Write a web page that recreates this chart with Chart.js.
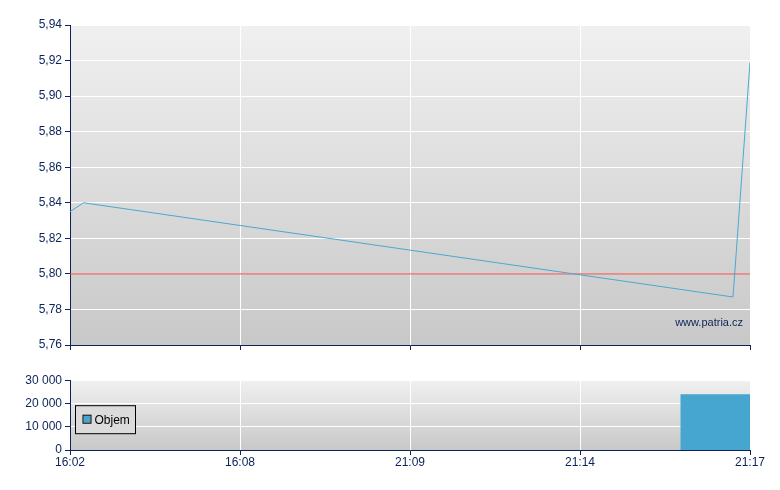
<!DOCTYPE html>
<html>
<head>
<meta charset="utf-8">
<script src="https://cdn.jsdelivr.net/npm/chart.js@4"></script>
<style>
    body { margin: 0; background: #fff; }
    #wrap { position: relative; width: 780px; height: 490px; }
    #priceChart { position: absolute; left: 0; top: 0; }
    #volChart { position: absolute; left: 0; top: 370px; }
</style>
</head>
<body>
<div id="wrap">
    <canvas id="priceChart" width="780" height="370"></canvas>
    <canvas id="volChart" width="780" height="120"></canvas>
</div>
<script>
// x positions are in "tick units": 0 = 16:02 ... 4 = 21:17
var timeLabels = ["16:02", "16:08", "21:09", "21:14", "21:17"];
var priceX = [0, 0.08, 3.9, 4];
var priceY = [5.835, 5.84, 5.787, 5.919];
var refPrice = 5.80;
var volX = [3.59, 4];
var volY = [24000, 24000];
var volLabel = "Objem";

var navy = "#0b2358";
var lineBlue = "#4aa9d2";
var barBlue = "#46a6cf";

var bgPlugin = {
    id: 'bgGrad',
    beforeDraw: function (chart) {
        var a = chart.chartArea;
        var ctx = chart.ctx;
        var g = ctx.createLinearGradient(0, a.top, 0, a.bottom);
        g.addColorStop(0, "#f0f0f0");
        g.addColorStop(1, "#c8c8c8");
        ctx.save();
        ctx.fillStyle = g;
        ctx.fillRect(a.left, a.top, a.right - a.left, a.bottom - a.top);
        ctx.strokeStyle = "#f6f6f6";
        ctx.lineWidth = 1;
        ctx.beginPath();
        ctx.moveTo(a.left, a.top + 0.5);
        ctx.lineTo(a.right + 0.5, a.top + 0.5);
        ctx.lineTo(a.right + 0.5, a.bottom);
        ctx.stroke();
        ctx.restore();
    }
};

var markPlugin = {
    id: 'mark',
    afterDatasetsDraw: function (chart) {
        var a = chart.chartArea;
        var ctx = chart.ctx;
        ctx.save();
        ctx.fillStyle = navy;
        ctx.font = "11px 'Liberation Sans', Arial, sans-serif";
        ctx.textAlign = "right";
        ctx.textBaseline = "middle";
        ctx.fillText("www.patria.cz", a.right - 7, a.bottom - 22);
        ctx.restore();
    }
};

var legendPlugin = {
    id: 'boxLegend',
    afterDatasetsDraw: function (chart) {
        var a = chart.chartArea;
        var ctx = chart.ctx;
        var x = a.left + 5.5, y = a.top + 25.5;
        ctx.save();
        ctx.fillStyle = "#dbdbdb";
        ctx.fillRect(x, y, 60, 28);
        ctx.strokeStyle = "#000";
        ctx.lineWidth = 1;
        ctx.strokeRect(x, y, 60, 28);
        ctx.fillStyle = barBlue;
        ctx.fillRect(x + 8, y + 10, 7, 7);
        ctx.strokeStyle = "#000";
        ctx.strokeRect(x + 7.5, y + 9.5, 8, 8);
        ctx.fillStyle = "#000";
        ctx.font = "12px 'Liberation Sans', Arial, sans-serif";
        ctx.textAlign = "left";
        ctx.textBaseline = "middle";
        ctx.fillText(chart.data.datasets[0].label, x + 19, y + 14.5);
        ctx.restore();
    }
};

var tickFont = { family: "'Liberation Sans', Arial, sans-serif", size: 12 };

function xScale(showLabels, h) {
    return {
        type: 'linear', min: 0, max: 4,
        afterFit: function (s) { s.height = h; },
        afterBuildTicks: function (s) {
            s.ticks = timeLabels.map(function (t, i) { return { value: i }; });
        },
        grid: { color: "#ffffff", lineWidth: 1, tickColor: navy, tickLength: 5 },
        border: { color: navy, width: 1 },
        ticks: {
            color: navy, font: tickFont, maxRotation: 0, padding: 0, autoSkip: false,
            callback: function (v) { return showLabels ? timeLabels[v] : ''; }
        }
    };
}

new Chart(document.getElementById('priceChart'), {
    type: 'line',
    data: {
        datasets: [{
            data: priceX.map(function (x, i) { return { x: x, y: priceY[i] }; }),
            borderColor: lineBlue, borderWidth: 1, pointRadius: 0, tension: 0
        }, {
            data: [{ x: 0, y: refPrice }, { x: 4, y: refPrice }],
            borderColor: "#e8433a", borderWidth: 1, pointRadius: 0
        }]
    },
    options: {
        responsive: false, animation: false,
        layout: { padding: { top: 25, right: 30, left: 0, bottom: 0 } },
        plugins: { legend: { display: false }, tooltip: { enabled: false } },
        scales: {
            x: xScale(false, 25),
            y: {
                min: 5.76, max: 5.94,
                afterFit: function (s) { s.width = 70; },
                grid: { color: "#ffffff", tickColor: navy, tickLength: 5 },
                border: { color: navy, width: 1 },
                ticks: {
                    stepSize: 0.02, color: navy, font: tickFont, padding: 3,
                    callback: function (v) { return Number(v).toFixed(2).replace('.', ','); }
                }
            }
        }
    },
    plugins: [bgPlugin, markPlugin]
});

new Chart(document.getElementById('volChart'), {
    type: 'line',
    data: {
        datasets: [{
            label: volLabel,
            data: volX.map(function (x, i) { return { x: x, y: volY[i] }; }),
            borderColor: barBlue, backgroundColor: barBlue, borderWidth: 0,
            pointRadius: 0, fill: 'origin'
        }]
    },
    options: {
        responsive: false, animation: false,
        layout: { padding: { top: 10, right: 30, left: 0, bottom: 0 } },
        plugins: { legend: { display: false }, tooltip: { enabled: false } },
        scales: {
            x: xScale(true, 40),
            y: {
                min: 0, max: 30000,
                afterFit: function (s) { s.width = 70; },
                grid: { color: "#ffffff", tickColor: navy, tickLength: 5 },
                border: { color: navy, width: 1 },
                ticks: {
                    stepSize: 10000, color: navy, font: tickFont, padding: 3,
                    callback: function (v) { return String(v).replace(/\B(?=(\d{3})+(?!\d))/g, ' '); }
                }
            }
        }
    },
    plugins: [bgPlugin, legendPlugin]
});
</script>
</body>
</html>
